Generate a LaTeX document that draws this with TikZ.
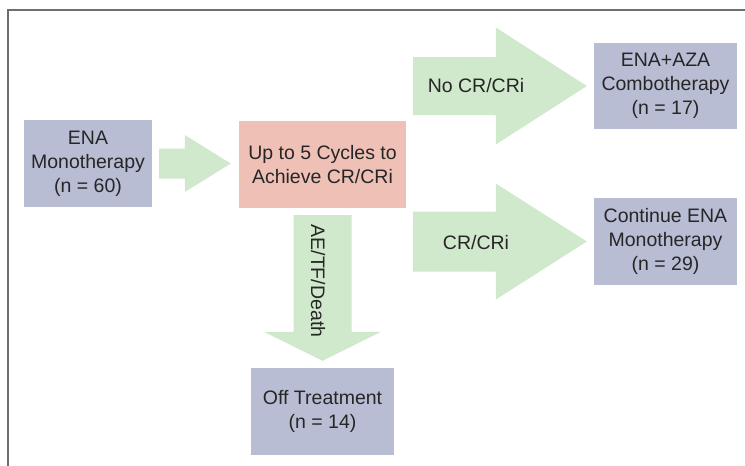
\documentclass[tikz,border=0pt]{standalone}
\usepackage{fontspec}
\setmainfont{Liberation Sans}
\usetikzlibrary{calc}

\definecolor{boxblue}{HTML}{B8BDD4}
\definecolor{boxpink}{HTML}{EFC0B5}
\definecolor{arrowgreen}{HTML}{D0E8CC}
\definecolor{framegray}{HTML}{6E6E6E}

\tikzset{
  box/.style={rectangle, inner sep=2pt, align=center, text=black!85,
    font=\fontsize{19.5}{24}\selectfont},
  bluebox/.style={box, fill=boxblue},
  pinkbox/.style={box, fill=boxpink},
  lbl/.style={inner sep=0pt, text=black!85, font=\fontsize{19.5}{24}\selectfont},
  % fat arrow to the right: half shaft, half head, head length
  rarrow/.style n args={3}{to path={
    let \p1=(\tikztostart), \p2=(\tikztotarget) in
    (\x1,\y1+#1) -- (\x2-#3,\y1+#1) -- (\x2-#3,\y1+#2) -- (\x2,\y1)
    -- (\x2-#3,\y1-#2) -- (\x2-#3,\y1-#1) -- (\x1,\y1-#1) -- cycle}},
  % fat arrow downwards
  darrow/.style n args={3}{to path={
    let \p1=(\tikztostart), \p2=(\tikztotarget) in
    (\x1-#1,\y1) -- (\x1-#1,\y2+#3) -- (\x1-#2,\y2+#3) -- (\x1,\y2)
    -- (\x1+#2,\y2+#3) -- (\x1+#1,\y2+#3) -- (\x1+#1,\y1) -- cycle}},
}

\begin{document}
\begin{tikzpicture}[x=1pt, y=-1pt]

  \useasboundingbox (0,0) rectangle (745,466);

  % Kader
  \draw[framegray, line width=2pt] (7.5,466) -- (7.5,10) -- (745,10);

  % Vakken
  \node[bluebox, minimum width=128pt, minimum height=87pt] (ena) at (88,163.5)
    {ENA\\Monotherapy\\(n = 60)};
  \node[pinkbox, minimum width=167pt, minimum height=87pt] (cycles) at (322.5,164.5)
    {Up to 5 Cycles to\\Achieve CR/CRi};
  \node[bluebox, minimum width=143pt, minimum height=86pt] (combo) at (665.5,86)
    {ENA+AZA\\Combotherapy\\(n = 17)};
  \node[bluebox, minimum width=143pt, minimum height=87pt] (cont) at (665.5,241.5)
    {Continue ENA\\Monotherapy\\(n = 29)};
  \node[bluebox, minimum width=143pt, minimum height=87pt] (off) at (322.5,411.5)
    {Off Treatment\\(n = 14)};

  % Pijlen
  \fill[arrowgreen] ([xshift=7pt]ena.east)
    to[rarrow={15pt}{28.5pt}{46pt}] ([xshift=-8pt]cycles.west);
  \fill[arrowgreen] ([xshift=7pt]cycles.east |- combo.west)
    to[rarrow={29pt}{58.5pt}{91pt}] ([xshift=-7pt]combo.west);
  \fill[arrowgreen] ([xshift=7pt]cycles.east |- cont.west)
    to[rarrow={30pt}{58pt}{91pt}] ([xshift=-7pt]cont.west);
  \fill[arrowgreen] ([yshift=-7pt]cycles.south)
    to[darrow={29pt}{58.5pt}{29pt}] ([yshift=7pt]off.north);

  % Labels
  \node[lbl] (nocr) at (476,86) {No CR/CRi};
  \node[lbl] (cr) at (476,243) {CR/CRi};
  \node[lbl, rotate=-90] (death) at (318,281) {AE/TF/Death};

\end{tikzpicture}
\end{document}
